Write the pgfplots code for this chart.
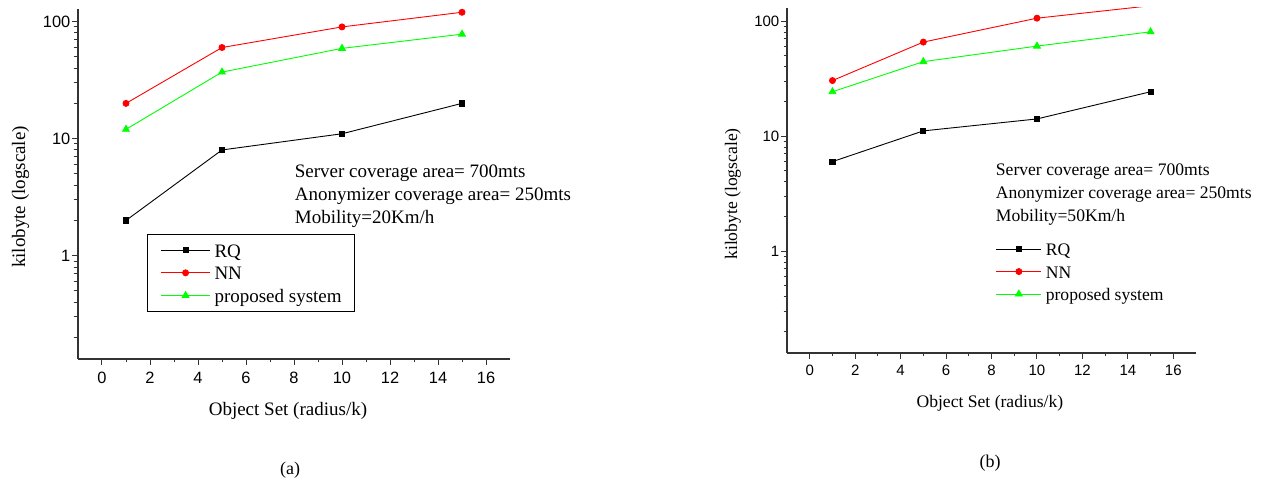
\documentclass[border=0pt]{standalone}
\usepackage{fontspec}
\setmainfont{Liberation Serif}
\newfontfamily\arial{Liberation Sans}
\usepackage{pgfplots}
\pgfplotsset{compat=1.18}

\definecolor{pure red}{RGB}{255,0,0}
\definecolor{pure green}{RGB}{0,255,0}

% struts that fix the legend row heights
\newcommand\lsa{\rule[-3.3pt]{0pt}{19pt}}
\newcommand\lsb{\rule[-3.1pt]{0pt}{17.6pt}}

\pgfplotsset{
  originlog/.style={
    scale only axis,
    xmin=-1, xmax=17,
    axis x line*=bottom, axis y line*=left,
    axis line style={-, line width=1.1pt, black!80},
    tick align=outside,
    major tick length=6pt, minor tick length=3.5pt,
    tick style={line width=1pt, black!80},
    xtick={0,2,...,16}, minor x tick num=1,
    ytick={1,10,100}, yticklabels={1,10,100},
    minor ytick={0.2,0.3,0.4,0.5,0.6,0.7,0.8,0.9,2,3,4,5,6,7,8,9,20,30,40,50,60,70,80,90},
    /pgf/number format/assume math mode=true,
    yticklabel style={inner xsep=1.5pt},
    legend cell align=left,
  },
  rq/.style={black, line width=0.9pt, mark=square*, mark size=2.6pt, mark options={solid}},
  nn/.style={pure red, line width=0.9pt, mark=*, mark size=3pt},
  ps/.style={pure green, line width=0.9pt, mark=triangle*, mark size=3.9pt},
}

\begin{document}
\begin{tikzpicture}
\path[use as bounding box] (0,0) rectangle (1263pt,481pt);

% ---- panel (a): mobility 20 km/h
\begin{axis}[
  ymode=log,
  originlog,
  at={(78pt,122pt)}, anchor=south west,
  width=432pt, height=350pt,
  ymin=0.131, ymax=128,
  tick label style={font=\arial\fontsize{16.4}{16.4}\selectfont},
  xticklabel style={yshift=-3.5pt},
  label style={font=\fontsize{19}{23}\selectfont},
  xlabel={Object Set (radius/k)},
  ylabel={kilobyte (logscale)},
  xlabel style={at={(axis description cs:0.486,-0.148)}, anchor=center},
  ylabel style={at={(axis description cs:-0.133,0.463)}, anchor=center},
  legend image code/.code={
    \path (0pt,-5.7pt) (0pt,5pt);
    \draw[mark repeat=2, mark phase=2, #1] plot coordinates {(0pt,0pt) (24.5pt,0pt) (49pt,0pt)};
  },
  legend style={at={(axis description cs:0.16,0.357)}, anchor=north west,
    draw=black, line width=1pt, inner xsep=13pt, inner ysep=7pt,
    font=\fontsize{19}{23}\selectfont, row sep=5.5pt, column sep=4pt,
    nodes={inner sep=0pt}},
]
\addplot[rq] coordinates {(1,2) (5,8) (10,11) (15,20)};
\addlegendentry{\lsa RQ}
\addplot[nn] coordinates {(1,20) (5,60) (10,90) (15,120)};
\addlegendentry{\lsa NN}
\addplot[ps] coordinates {(1,12) (5,37) (10,59) (15,78)};
\addlegendentry{\lsa proposed system}
\end{axis}

% ---- panel (b): mobility 50 km/h
\begin{axis}[
  ymode=log,
  originlog,
  at={(787pt,128pt)}, anchor=south west,
  width=409pt, height=345pt,
  ymin=0.13, ymax=130,
  tick label style={font=\arial\fontsize{15}{15}\selectfont},
  xticklabel style={yshift=-3pt},
  label style={font=\fontsize{17.6}{21}\selectfont},
  xlabel={Object Set (radius/k)},
  ylabel={kilobyte (logscale)},
  xlabel style={at={(axis description cs:0.496,-0.145)}, anchor=center},
  ylabel style={at={(axis description cs:-0.132,0.461)}, anchor=center},
  legend image code/.code={
    \path (0pt,-5.3pt) (0pt,5pt);
    \draw[mark repeat=2, mark phase=2, #1] plot coordinates {(0pt,0pt) (22.5pt,0pt) (45pt,0pt)};
  },
  legend style={at={(axis description cs:0.5103,0.325)}, anchor=north west,
    draw=none, fill=none, inner xsep=0pt, inner ysep=0pt,
    font=\fontsize{17.6}{21}\selectfont, row sep=6.5pt, column sep=4pt,
    nodes={inner sep=0pt}},
]
\addplot[rq] coordinates {(1,6) (5,11.1) (10,14.1) (15,24.3)};
\addlegendentry{\lsb RQ}
\addplot[nn] coordinates {(1,30.4) (5,65.7) (10,106) (15,136)};
\addlegendentry{\lsb NN}
\addplot[ps] coordinates {(1,24.3) (5,44.4) (10,60.6) (15,80.7)};
\addlegendentry{\lsb proposed system}
\end{axis}

% ---- annotations and captions
\begin{scope}[every node/.style={anchor=base west, inner sep=0pt}]
\node[font=\fontsize{19}{23}\selectfont] at (294.7pt,303pt) {Server coverage area= 700mts};
\node[font=\fontsize{19}{23}\selectfont] at (294.7pt,280pt) {Anonymizer coverage area= 250mts};
\node[font=\fontsize{19}{23}\selectfont] at (294.7pt,257pt) {Mobility=20Km/h};
\node[font=\fontsize{17.6}{21}\selectfont] at (995.7pt,305pt) {Server coverage area= 700mts};
\node[font=\fontsize{17.6}{21}\selectfont] at (995.7pt,282pt) {Anonymizer coverage area= 250mts};
\node[font=\fontsize{17.6}{21}\selectfont] at (995.7pt,259pt) {Mobility=50Km/h};
\end{scope}
\node[font=\fontsize{18}{22}\selectfont] at (290pt,11pt) {(a)};
\node[font=\fontsize{18}{22}\selectfont] at (990pt,18pt) {(b)};
\end{tikzpicture}
\end{document}
